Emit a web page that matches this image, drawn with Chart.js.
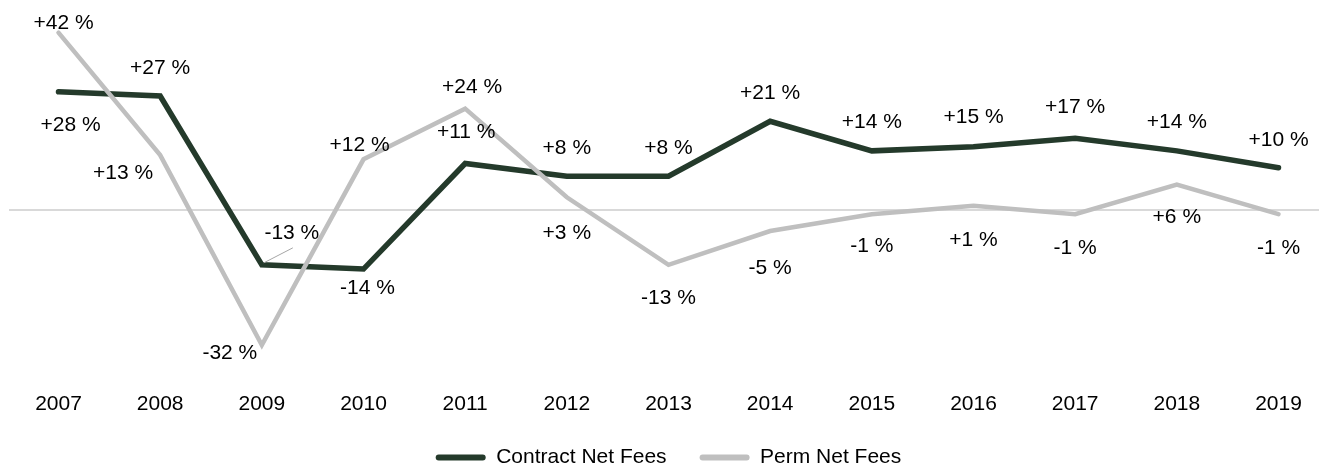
<!DOCTYPE html>
<html>
<head>
<meta charset="utf-8">
<script src="https://cdn.jsdelivr.net/npm/chart.js@4.4.0/dist/chart.umd.min.js"></script>
<style>
    html, body { margin: 0; padding: 0; background: #fff; overflow: hidden; }
    #wrap { width: 1319px; height: 464px; position: relative; }
</style>
</head>
<body>
<div id="wrap"><canvas id="growthChart"></canvas></div>
<script>
// Year-on-year growth, in %
const years = ['2007', '2008', '2009', '2010', '2011', '2012', '2013', '2014', '2015', '2016', '2017', '2018', '2019'];
const contractFees = [28, 27, -13, -14, 11, 8, 8, 21, 14, 15, 17, 14, 10];
const permFees = [42, 13, -32, 12, 24, 3, -13, -5, -1, 1, -1, 6, -1];

// where each value label sits relative to its point (dx, dy)
const contractLabelPos = [[12, 33], [0, -28], [30, -32], [4, 19], [1, -31], [0, -28], [0, -28], [0, -28], [0, -29], [0, -29], [0, -31], [0, -29], [0, -28]];
const permLabelPos = [[5, -9], [-37, 18], [-32, 8], [-4, -14], [7, -21], [0, 36], [0, 33], [0, 37], [0, 32], [0, 34], [0, 34], [0, 33], [0, 34]];

const FONT = '"Liberation Sans", Arial, sans-serif';

function pct(v) {
    return (v > 0 ? '+' : '') + v + ' %';
}

// light zero line running across the full width
const zeroLine = {
    id: 'zeroLine',
    beforeDatasetsDraw(chart) {
        const ctx = chart.ctx;
        const y = chart.scales.y.getPixelForValue(0);
        ctx.save();
        ctx.strokeStyle = '#d9d9d9';
        ctx.lineWidth = 2;
        ctx.beginPath();
        ctx.moveTo(9, y);
        ctx.lineTo(chart.width, y);
        ctx.stroke();
        ctx.restore();
    }
};

// value labels next to the points
const valueLabels = {
    id: 'valueLabels',
    afterDatasetsDraw(chart) {
        const ctx = chart.ctx;
        const placements = [contractLabelPos, permLabelPos];
        ctx.save();
        ctx.font = '21px ' + FONT;
        ctx.fillStyle = '#000';
        ctx.textAlign = 'center';
        ctx.textBaseline = 'middle';
        chart.data.datasets.forEach((ds, i) => {
            const meta = chart.getDatasetMeta(i);
            meta.data.forEach((pt, j) => {
                const [dx, dy] = placements[i][j];
                // leader line for the one label pushed away from its point
                if (i === 0 && j === 2) {
                    ctx.save();
                    ctx.strokeStyle = '#a6a6a6';
                    ctx.lineWidth = 1;
                    ctx.beginPath();
                    ctx.moveTo(pt.x + 2, pt.y - 2);
                    ctx.lineTo(pt.x + 31, pt.y - 17);
                    ctx.stroke();
                    ctx.restore();
                }
                ctx.fillText(pct(ds.data[j]), pt.x + dx, pt.y + dy);
            });
        });
        ctx.restore();
    }
};

const ctx = document.getElementById('growthChart').getContext('2d');
const growthChart = new Chart(ctx, {
    type: 'line',
    data: {
        labels: years,
        datasets: [{
            label: 'Contract Net Fees',
            data: contractFees,
            borderColor: '#243a2b',
            backgroundColor: '#243a2b',
            borderWidth: 5.5,
            order: 1
        }, {
            label: 'Perm Net Fees',
            data: permFees,
            borderColor: '#bfbfbf',
            backgroundColor: '#bfbfbf',
            borderWidth: 4.5,
            order: 0
        }]
    },
    options: {
        responsive: true,
        maintainAspectRatio: false,
        animation: false,
        events: [],
        layout: {
            padding: { top: 20, left: 58.5, right: 40.5, bottom: -14 }
        },
        elements: {
            line: { tension: 0, borderCapStyle: 'round', borderJoinStyle: 'miter' },
            point: { radius: 0 }
        },
        datasets: {
            line: { clip: false }
        },
        scales: {
            x: {
                offset: false,
                grid: { color: 'transparent', tickLength: 28 },
                border: { display: false },
                ticks: {
                    color: '#000',
                    padding: 8,
                    maxRotation: 0,
                    autoSkip: false,
                    font: { family: FONT, size: 21, lineHeight: 1 }
                },
                afterFit(scale) {
                    scale.height = 56.3;
                }
            },
            y: {
                display: false,
                min: -35,
                max: 45
            }
        },
        plugins: {
            tooltip: { enabled: false },
            legend: {
                position: 'bottom',
                labels: {
                    color: '#000',
                    font: { family: FONT, size: 21 },
                    boxWidth: 50,
                    boxHeight: 6,
                    padding: 33,
                    useBorderRadius: true,
                    borderRadius: 3,
                    sort: (a, b) => a.datasetIndex - b.datasetIndex,
                    generateLabels(chart) {
                        const items = Chart.defaults.plugins.legend.labels.generateLabels(chart);
                        items.forEach(item => {
                            item.lineWidth = 0;
                            item.fillStyle = item.strokeStyle;
                        });
                        return items;
                    }
                }
            }
        }
    },
    plugins: [zeroLine, valueLabels]
});
</script>
</body>
</html>
